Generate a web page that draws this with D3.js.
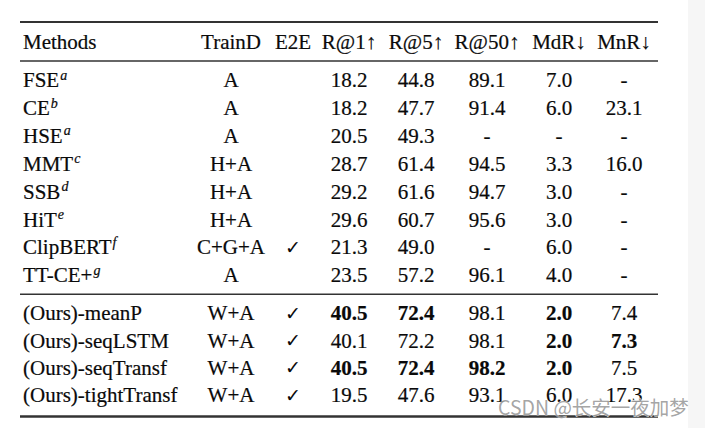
<!DOCTYPE html>
<html>
<head>
<meta charset="utf-8">
<script src="https://cdn.jsdelivr.net/npm/d3@7"></script>
<style>
  html, body { margin: 0; padding: 0; background: #fff; }
  svg { display: block; }
</style>
</head>
<body>
<svg id="table"></svg>
<script>
const width = 705;
const height = 428;

const headers = ["Methods", "TrainD", "E2E", "R@1\u2191", "R@5\u2191", "R@50\u2191", "MdR\u2193", "MnR\u2193"];

const methods = ["FSE", "CE", "HSE", "MMT", "SSB", "HiT", "ClipBERT", "TT-CE+",
                 "(Ours)-meanP", "(Ours)-seqLSTM", "(Ours)-seqTransf", "(Ours)-tightTransf"];
const refs = ["a", "b", "a", "c", "d", "e", "f", "g", "", "", "", ""];
const trainD = ["A", "A", "A", "H+A", "H+A", "H+A", "C+G+A", "A", "W+A", "W+A", "W+A", "W+A"];
const e2e = [false, false, false, false, false, false, true, false, true, true, true, true];
const r1 = ["18.2", "18.2", "20.5", "28.7", "29.2", "29.6", "21.3", "23.5", "40.5", "40.1", "40.5", "19.5"];
const r5 = ["44.8", "47.7", "49.3", "61.4", "61.6", "60.7", "49.0", "57.2", "72.4", "72.2", "72.4", "47.6"];
const r50 = ["89.1", "91.4", "-", "94.5", "94.7", "95.6", "-", "96.1", "98.1", "98.1", "98.2", "93.1"];
const mdr = ["7.0", "6.0", "-", "3.3", "3.0", "3.0", "6.0", "4.0", "2.0", "2.0", "2.0", "6.0"];
const mnr = ["-", "23.1", "-", "16.0", "-", "-", "-", "-", "7.4", "7.3", "7.5", "17.3"];
// best results per row (column index into the metric list)
const best = [[], [], [], [], [], [], [], [], [0, 1, 3], [3, 4], [0, 1, 2, 3], []];
const groupSize = 8; // first 8 rows are prior work

const metrics = [r1, r5, r50, mdr, mnr];

const svg = d3.select("#table")
  .attr("width", width)
  .attr("height", height);

svg.append("rect").attr("x", 0).attr("y", 0).attr("width", width).attr("height", height).attr("fill", "#fff");
svg.append("rect").attr("x", 688).attr("y", 0).attr("width", width - 688).attr("height", height).attr("fill", "#f6f6f6");

const font = "'Liberation Serif', 'Times New Roman', serif";
const fontSize = 21;
const ink = "#0a0a0a";

// column centres
const colX = d3.scaleOrdinal()
  .domain(headers)
  .range([23, 231, 293, 349, 416, 487, 559, 624]);

const idx = d3.range(methods.length);
const yPrior = d3.scalePoint().domain(idx.slice(0, groupSize)).range([80, 275]);
const yOurs = d3.scalePoint().domain(idx.slice(groupSize)).range([313, 395]);
const rowY = i => i < groupSize ? yPrior(i) : yOurs(i);

const g = svg.append("g")
  .attr("font-family", font)
  .attr("font-size", fontSize)
  .attr("fill", ink)
  .attr("stroke", ink)
  .attr("stroke-width", 0.2);

// rules
const rules = [
  {y: 22, w: 2},
  {y: 61, w: 1.6},
  {y: 294.3, w: 1.6},
  {y: 416.5, w: 2.6}
];
g.selectAll(".rule")
  .data(rules)
  .join("line")
  .attr("class", "rule")
  .attr("x1", 20).attr("x2", 658)
  .attr("y1", d => d.y).attr("y2", d => d.y)
  .attr("stroke", "#333")
  .attr("stroke-width", d => d.w);

// header
g.selectAll(".head")
  .data(headers)
  .join("text")
  .attr("class", "head")
  .attr("x", d => colX(d))
  .attr("y", 42)
  .attr("dy", "0.35em")
  .attr("text-anchor", (d, i) => i === 0 ? "start" : "middle")
  .text(d => d);

// method names with reference superscripts
const names = g.selectAll(".name")
  .data(idx)
  .join("text")
  .attr("class", "name")
  .attr("x", colX(headers[0]))
  .attr("y", rowY)
  .attr("dy", "0.35em");
names.append("tspan").text(i => methods[i]);
names.filter(i => refs[i] !== "")
  .append("tspan")
  .attr("font-size", 14)
  .attr("font-style", "italic")
  .attr("dy", "-0.55em")
  .attr("dx", 1)
  .text(i => refs[i]);

// end-to-end check marks
g.selectAll(".check")
  .data(idx.filter(i => e2e[i]))
  .join("text")
  .attr("class", "check")
  .attr("x", colX(headers[2]))
  .attr("y", rowY)
  .attr("dy", "0.35em")
  .attr("text-anchor", "middle")
  .attr("font-family", "'DejaVu Sans', sans-serif")
  .attr("font-size", 19)
  .attr("stroke-width", 0)
  .text("\u2713");

// training data
g.selectAll(".train")
  .data(idx)
  .join("text")
  .attr("class", "train")
  .attr("x", colX(headers[1]))
  .attr("y", rowY)
  .attr("dy", "0.35em")
  .attr("text-anchor", "middle")
  .text(i => trainD[i]);

// metric cells
metrics.forEach((col, m) => {
  g.selectAll(".m" + m)
    .data(idx)
    .join("text")
    .attr("class", "m" + m)
    .attr("x", colX(headers[3 + m]))
    .attr("y", rowY)
    .attr("dy", "0.35em")
    .attr("text-anchor", "middle")
    .attr("font-weight", i => best[i].includes(m) ? "bold" : "normal")
    .text(i => col[i]);
});

// watermark (overlaps the last row, as in the source image)
svg.append("text")
  .attr("x", 498)
  .attr("y", 408)
  .attr("dy", "0.35em")
  .attr("font-family", "'Noto Sans CJK SC', 'Noto Sans', sans-serif")
  .attr("font-size", 19.5)
  .attr("fill", "#9a9a9a")
  .attr("fill-opacity", 0.9)
  .attr("stroke", "#fff")
  .attr("stroke-width", 0.6)
  .attr("paint-order", "stroke")
  .text("CSDN @长安一夜加梦");
</script>
</body>
</html>
